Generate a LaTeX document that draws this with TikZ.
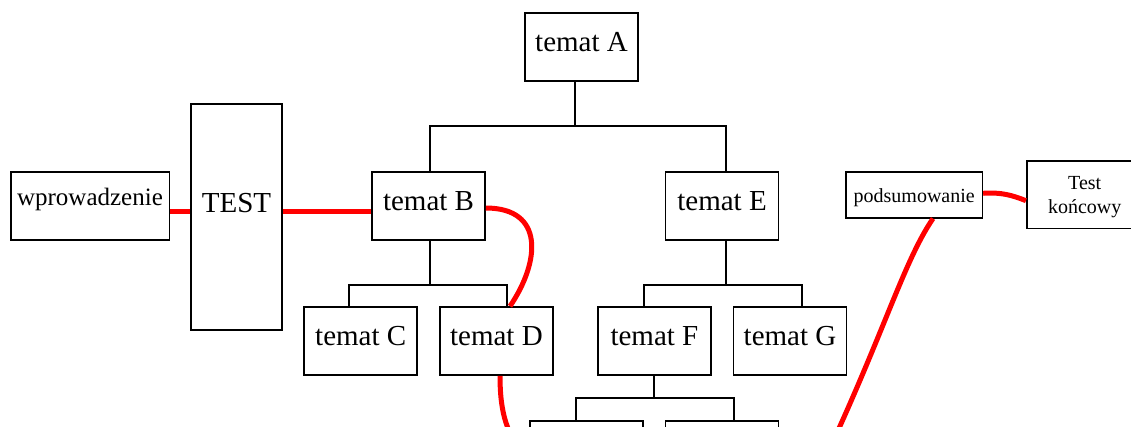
\documentclass[tikz,border=0pt]{standalone}
\usepackage{fontspec}
\setmainfont{Liberation Serif}
\usetikzlibrary{calc}
\newcommand{\fbig}{\fontsize{29}{34}\selectfont}
\newcommand{\fmid}{\fontsize{25}{30}\selectfont}
\newcommand{\fsml}{\fontsize{20}{24}\selectfont}
\begin{document}
\begin{tikzpicture}[x=1pt,y=-1pt,
  box/.style={draw, line width=1.6pt, inner sep=0pt},
  tbox/.style={box, minimum width=113pt, minimum height=68pt, font=\fbig, text height=19.6pt, text depth=10pt},
  conn/.style={line width=1.6pt},
  redline/.style={red, line width=5pt}]
\useasboundingbox (0,0) rectangle (1131,426);
\clip (0,0) rectangle (1131,426);
% nodes
\node[tbox] (A) at (581.5,47) {temat A};
\node[tbox] (B) at (428.5,206) {temat B};
\node[tbox] (E) at (722,206) {temat E};
\node[tbox] (C) at (360.7,341) {temat C};
\node[tbox] (D) at (496.4,341) {temat D};
\node[tbox] (F) at (654.4,341) {temat F};
\node[tbox] (G) at (790,341) {temat G};
\node[tbox] (H1) at (586.7,455) {};
\node[tbox] (H2) at (722,455) {};
\node[box, minimum width=158.6pt, minimum height=67.5pt, font=\fmid, text height=18pt, text depth=20pt] (W) at (90,206) {wprowadzenie};
\node[box, minimum width=91pt, minimum height=226pt, font=\fbig, text height=19pt, text depth=28.4pt] (T) at (236.5,217) {TEST};
\node[box, minimum width=136.3pt, minimum height=45.7pt, font=\fsml, text height=17pt, text depth=2.1pt] (P) at (914.2,194.9) {podsumowanie};
\node[box, minimum width=116pt, minimum height=67.6pt,
  label={[font=\fsml, align=center, yshift=-2.4pt]center:Test\\końcowy}] (K) at (1084.7,194.5) {};
% tree connectors
\draw[conn] (A.south -| 575,0) -- (575,126);
\draw[conn] (B.north -| 430,0) |- (726,126) -- (E.north -| 726,0);
\draw[conn] (B.south -| 430,0) -- (430,285);
\draw[conn] (C.north -| 349,0) |- (507,285) -- (D.north -| 507,0);
\draw[conn] (E.south -| 726,0) -- (726,285);
\draw[conn] (F.north -| 644,0) |- (802,285) -- (G.north -| 802,0);
\draw[conn] (F.south -| 654,0) -- (654,398);
\draw[conn] (H1.north -| 576,0) |- (734,398) -- (H2.north -| 734,0);
% red path
\draw[redline] (W.east |- 0,211) -- (T.west |- 0,211);
\draw[redline] (T.east |- 0,211) -- (B.west |- 0,211);
\draw[redline] (B.east |- 0,208) .. controls (545,208) and (540,262) .. (D.north -| 510,0);
\draw[redline] (D.south -| 500,0) .. controls (500,410) and (506,440) .. (H1.west);
\coordinate (pend) at (815,480);
\draw[redline] (P.south -| 933,0) .. controls (903,262) and (882,340) .. (pend);
\draw[redline] (P.east |- 0,193.3) .. controls (1000,192) and (1012,195) .. (K.west |- 0,200.7);
\end{tikzpicture}
\end{document}
